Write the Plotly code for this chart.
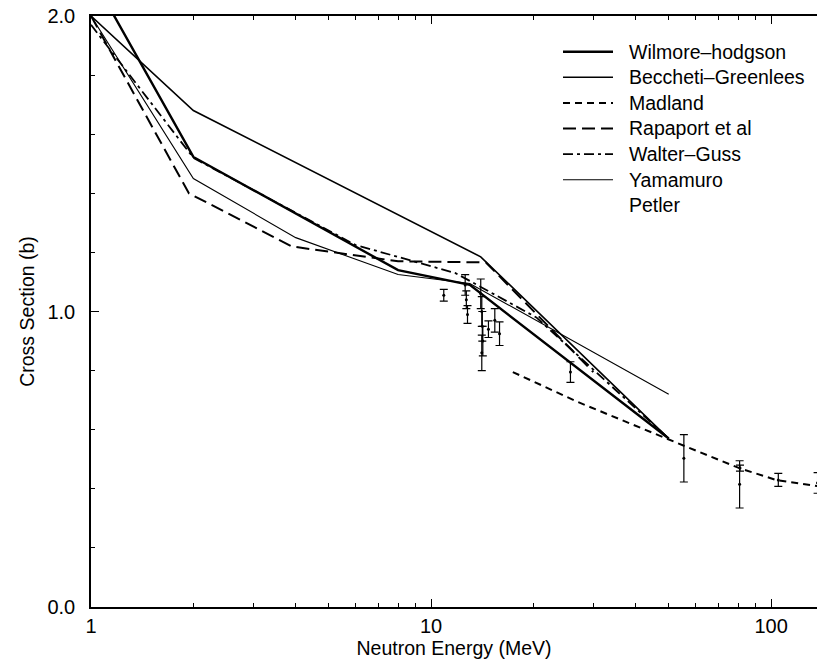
import plotly.graph_objects as go

# ---------------- data ----------------
wilmore_E = [1.0, 2.0, 8.0, 13.0, 50.0]
wilmore_s = [2.14, 1.523, 1.14, 1.09, 0.57]

becchetti_E = [1.0, 2.0, 14.0, 50.0]
becchetti_s = [2.0, 1.68, 1.185, 0.57]

madland_E = [17.4, 27.0, 53.5, 81.0, 104.0, 137.0]
madland_s = [0.795, 0.694, 0.553, 0.469, 0.429, 0.409]

rapaport_E = [1.0, 1.94, 3.9, 8.0, 14.5, 30.0]
rapaport_s = [2.0, 1.40, 1.22, 1.17, 1.166, 0.795]

walter_E = [1.0, 2.0, 6.0, 11.8, 20.4, 50.0]
walter_s = [1.97, 1.52, 1.225, 1.13, 0.98, 0.57]

yamamuro_E = [1.0, 2.0, 4.0, 8.0, 13.0, 50.0]
yamamuro_s = [2.0, 1.45, 1.25, 1.125, 1.095, 0.72]

petler_E = [10.9, 12.6, 12.7, 12.8, 14.0, 14.1, 14.15, 14.2, 14.1, 14.75, 15.4, 15.9, 25.7,
            55.4, 80.8, 81.0, 105.0, 137.0]
petler_s = [1.055, 1.09, 1.04, 0.99, 1.06, 1.0, 0.95, 0.9, 0.86, 0.94, 0.97, 0.925, 0.795,
            0.503, 0.415, 0.47, 0.43, 0.42]
petler_err = [0.02, 0.035, 0.03, 0.03, 0.05, 0.05, 0.05, 0.05, 0.06, 0.028, 0.04, 0.04, 0.035,
              0.08, 0.08, 0.01, 0.022, 0.035]

legend_names = ["Wilmore\u2013hodgson", "Beccheti\u2013Greenlees", "Madland",
                "Rapaport et al", "Walter\u2013Guss", "Yamamuro", "Petler"]

FONT = "Liberation Sans, Arial, Helvetica, sans-serif"

# styles: (width, dash) per model, in legend order
styles = [(2.4, "solid"), (1.6, "solid"), (2.0, "7px,5px"), (2.0, "13px,6px"),
          (1.8, "10px,4px,3px,4px"), (1.1, "solid")]
series = [(wilmore_E, wilmore_s), (becchetti_E, becchetti_s), (madland_E, madland_s),
          (rapaport_E, rapaport_s), (walter_E, walter_s), (yamamuro_E, yamamuro_s)]

fig = go.Figure()
for (E, s), (w, d), name in zip(series, styles, legend_names):
    fig.add_trace(go.Scatter(x=E, y=s, mode="lines", name=name, showlegend=False,
                             line=dict(color="black", width=w, dash=d)))

fig.add_trace(go.Scatter(
    x=petler_E, y=petler_s, mode="markers", name="Petler", showlegend=False,
    marker=dict(color="black", size=3, symbol="circle"),
    error_y=dict(type="data", array=petler_err, visible=True, color="black",
                 thickness=1.2, width=4)))

# ---- legend drawn as text annotations + short sample lines (paper coords) ----
W, H = 817, 666
ML, MR, MT, MB = 91, 0, 16, 59
pw, ph = W - ML - MR, H - MT - MB
def px2paper_x(px):
    return (px - ML) / pw
def px2paper_y(py):
    return (H - MB - py) / ph

row0, row_step = 51.7, 25.6
for i, name in enumerate(legend_names):
    yc = row0 + i * row_step
    fig.add_annotation(x=px2paper_x(627), y=px2paper_y(yc), xref="paper", yref="paper",
                       text=name, showarrow=False, xanchor="left", yanchor="middle",
                       font=dict(family=FONT, size=19.5, color="black"))
    if i < len(styles):
        w, d = styles[i]
        fig.add_shape(type="line", xref="paper", yref="paper",
                      x0=px2paper_x(563), x1=px2paper_x(613),
                      y0=px2paper_y(yc), y1=px2paper_y(yc),
                      line=dict(color="black", width=w, dash=d))

fig.update_layout(
    width=W, height=H,
    margin=dict(l=ML, r=MR, t=MT, b=MB),
    paper_bgcolor="white", plot_bgcolor="white",
    font=dict(family=FONT, size=19, color="black"),
    showlegend=False,
    xaxis=dict(type="log", range=[0, 2.135],
               tickvals=[1, 10, 100], ticktext=["1", "10", "100"],
               ticks="inside", ticklen=8, tickwidth=1.2, tickcolor="black",
               minor=dict(tickvals=[2, 3, 4, 5, 6, 7, 8, 9, 20, 30, 40, 50, 60, 70, 80, 90],
                          ticks="inside", ticklen=4, tickcolor="black", showgrid=False),
               showline=True, linecolor="black", linewidth=1.6, mirror="ticks",
               showgrid=False, zeroline=False,
               title=dict(text="Neutron Energy (MeV)", font=dict(size=19.5), standoff=2),
               tickfont=dict(size=20)),
    yaxis=dict(range=[0, 2.0], tickvals=[0, 1, 2], ticktext=["0.0", "1.0", "2.0"],
               ticks="inside", ticklen=8, tickwidth=1.2, tickcolor="black",
               minor=dict(dtick=0.2, ticks="inside", ticklen=4, tickcolor="black", showgrid=False),
               showline=True, linecolor="black", linewidth=1.6,
               showgrid=False, zeroline=False, ticklabelstandoff=10,
               title=dict(text="Cross Section (b)", font=dict(size=19.5), standoff=8),
               tickfont=dict(size=20)),
)

fig.write_html("out.html")
